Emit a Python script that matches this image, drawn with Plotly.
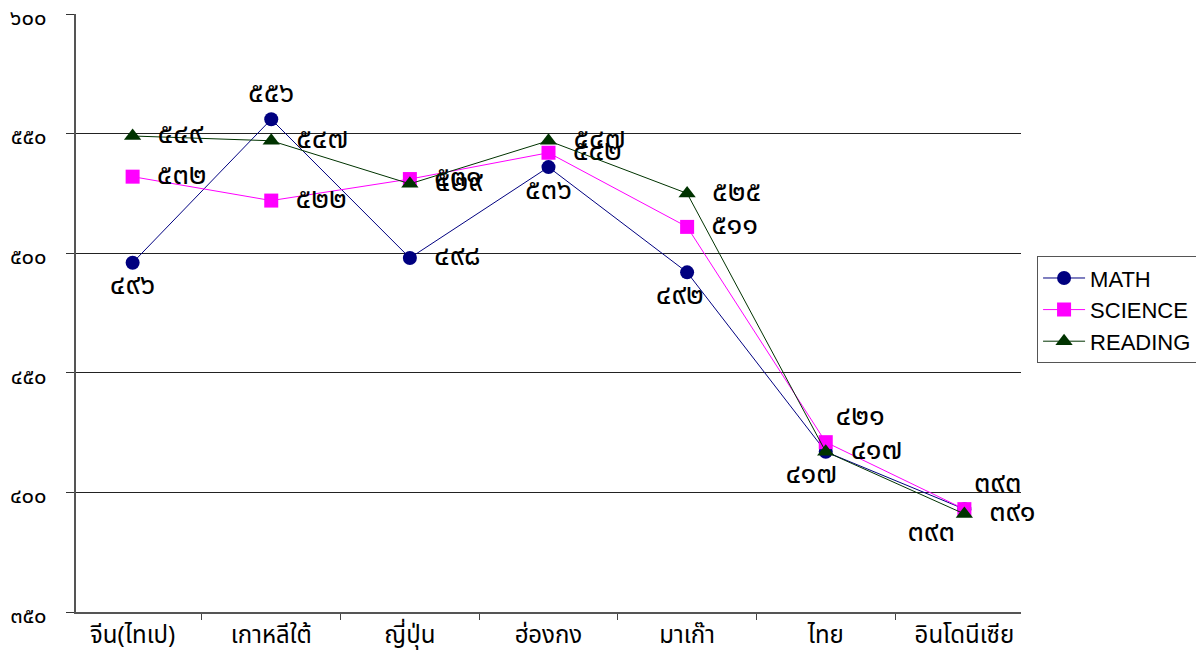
import plotly.graph_objects as go

countries = ["จีน(ไทเป)", "เกาหลีใต้", "ญี่ปุ่น", "ฮ่องกง", "มาเก๊า", "ไทย", "อินโดนีเซีย"]
math_vals = [496, 556, 498, 536, 492, 417, 393]
science_vals = [532, 522, 531, 542, 511, 421, 393]
reading_vals = [549, 547, 529, 547, 525, 417, 391]
y_ticks = [350, 400, 450, 500, 550, 600]

THAI = str.maketrans("0123456789", "๐๑๒๓๔๕๖๗๘๙")
SP = "\u2002"


def th(v):
    return str(v).translate(THAI)


THAI_FONT = "Noto Sans Thai, Tahoma, DejaVu Sans, sans-serif"
label_font = dict(family=THAI_FONT, size=29, color="black")

math_pos = ["bottom center", "top center", "middle right", "bottom center",
            "bottom center", "bottom center", "bottom left"]
math_pad = ["", "", "", "", SP, SP + SP, ""]
sci_pos = ["middle right", "middle right", "middle right", "middle right",
           "middle right", "top right", "top right"]
read_pos = ["middle right"] * 7


def labels(vals, pos, pad=None):
    out = []
    for i, (v, p) in enumerate(zip(vals, pos)):
        t = th(v)
        if p == "middle right":
            t = SP + t
        if pad:
            t = t + pad[i]
        out.append(t)
    return out


fig = go.Figure()
fig.add_trace(go.Scatter(
    x=countries, y=math_vals, name="MATH", mode="lines+markers+text",
    line=dict(color="#000080", width=1),
    marker=dict(symbol="circle", size=14, color="#000080"),
    text=labels(math_vals, math_pos, math_pad), textposition=math_pos,
    textfont=label_font, cliponaxis=False,
))
fig.add_trace(go.Scatter(
    x=countries, y=science_vals, name="SCIENCE", mode="lines+markers+text",
    line=dict(color="#FF00FF", width=1),
    marker=dict(symbol="square", size=14, color="#FF00FF"),
    text=labels(science_vals, sci_pos), textposition=sci_pos,
    textfont=label_font, cliponaxis=False,
))
fig.add_trace(go.Scatter(
    x=countries, y=reading_vals, name="READING", mode="lines+markers+text",
    line=dict(color="#003300", width=1),
    marker=dict(symbol="triangle-up", size=15, color="#003300"),
    text=labels(reading_vals, read_pos), textposition=read_pos,
    textfont=label_font, cliponaxis=False,
))

fig.update_layout(
    width=1204, height=660,
    margin=dict(l=68, r=191, t=6, b=56),
    plot_bgcolor="white", paper_bgcolor="white",
    showlegend=True,
    legend=dict(
        x=1.017, y=0.595, xanchor="left", yanchor="top",
        bordercolor="#555555", borderwidth=1, itemwidth=42,
        font=dict(family="Liberation Sans, Arial, sans-serif", size=22, color="black"),
    ),
)
fig.update_xaxes(
    type="category", tickson="boundaries", ticks="outside", ticklen=6,
    tickcolor="#444444", showline=True, linecolor="#555555", linewidth=2,
    showgrid=False, automargin=False,
    tickfont=dict(family=THAI_FONT, size=24, color="black"),
)
fig.update_yaxes(
    range=[350, 600], tickvals=y_ticks, ticktext=[th(v) for v in y_ticks],
    ticks="outside", ticklen=8, tickcolor="#333333",
    showline=True, linecolor="#555555", linewidth=2,
    showgrid=True, gridcolor="#222222", gridwidth=1, zeroline=False,
    automargin=False, ticklabeloverflow="allow", ticklabelstandoff=15,
    ticklabelshift=3,
    tickfont=dict(family=THAI_FONT, size=22, color="black"),
)

fig.write_html("out.html")
